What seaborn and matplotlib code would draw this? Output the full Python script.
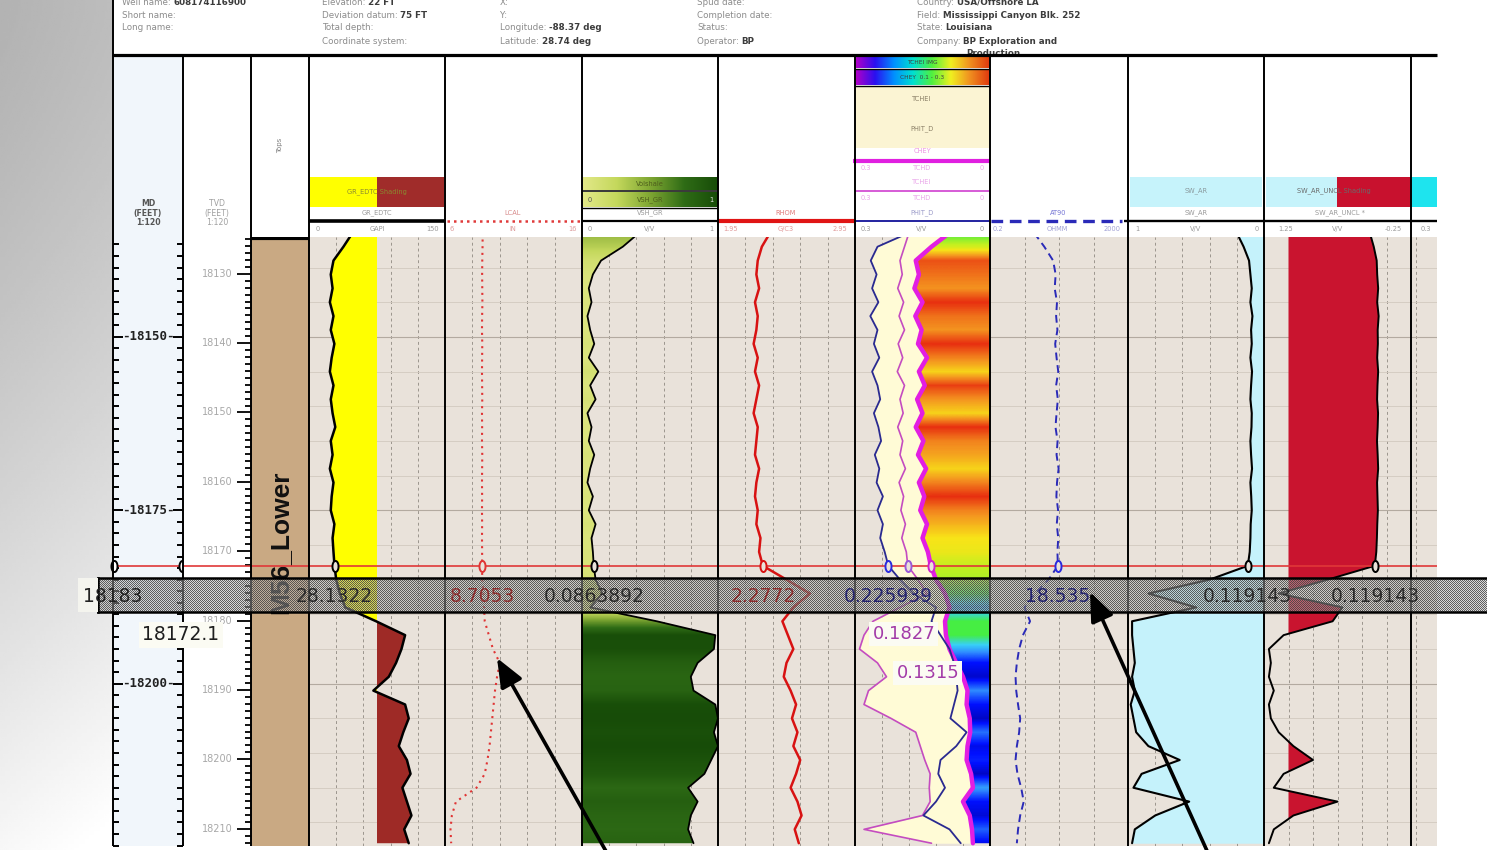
import numpy as np
import matplotlib
matplotlib.use("Agg")
import matplotlib.pyplot as plt
import matplotlib.transforms as mtransforms
from matplotlib.colors import LinearSegmentedColormap
from matplotlib.patches import Rectangle
from matplotlib.ticker import MultipleLocator, FixedLocator, NullLocator
import seaborn as sns

# ---------------------------------------------------------------- log data
MD = [18135, 18137, 18139, 18141, 18143,
      18145, 18147, 18149, 18151, 18153,
      18155, 18157, 18159, 18161, 18163,
      18165, 18167, 18169, 18171, 18173,
      18175, 18177, 18179, 18181, 18183,
      18185, 18187, 18189, 18191, 18193,
      18195, 18197, 18199, 18201, 18203,
      18205, 18207, 18209, 18211, 18213,
      18215, 18217, 18219, 18221, 18223]

GR_EDTC = [48, 38, 27, 24, 26,
           23, 27, 24, 28, 25,
           23, 27, 24, 26, 29,
           24, 26, 23, 27, 25,
           24, 28, 26, 27, 28.1322,
           30, 34, 40, 74, 106,
           102, 96, 88, 71, 106,
           110, 104, 99, 108, 112,
           103, 108, 113, 105, 110]

LCAL = [8.75, 8.74, 8.72, 8.71, 8.72,
        8.73, 8.71, 8.70, 8.72, 8.71,
        8.70, 8.71, 8.72, 8.70, 8.71,
        8.70, 8.72, 8.71, 8.70, 8.71,
        8.70, 8.71, 8.70, 8.71, 8.7053,
        8.72, 8.80, 8.85, 8.90, 9.20,
        9.50, 10.0, 9.80, 9.65, 9.55,
        9.45, 9.35, 9.25, 9.10, 8.90,
        8.30, 6.80, 6.50, 6.40, 6.45]

VSH_GR = [0.42, 0.30, 0.14, 0.08, 0.05,
          0.07, 0.04, 0.06, 0.09, 0.05,
          0.12, 0.06, 0.10, 0.04, 0.07,
          0.05, 0.09, 0.06, 0.04, 0.08,
          0.05, 0.10, 0.07, 0.08, 0.0863892,
          0.10, 0.15, 0.06, 0.55, 0.98,
          0.97, 0.85, 0.80, 0.82, 0.98,
          1.00, 0.97, 1.00, 0.95, 0.90,
          0.78, 0.85, 0.80, 0.78, 0.82]

RHOM = [2.33, 2.27, 2.24, 2.23, 2.25,
        2.22, 2.24, 2.23, 2.21, 2.24,
        2.22, 2.25, 2.23, 2.21, 2.24,
        2.23, 2.22, 2.25, 2.23, 2.22,
        2.24, 2.23, 2.26, 2.25, 2.2772,
        2.45, 2.62, 2.50, 2.42, 2.46,
        2.50, 2.45, 2.43, 2.48, 2.52,
        2.49, 2.53, 2.50, 2.55, 2.52,
        2.48, 2.53, 2.56, 2.51, 2.54]

PHIT_D = [0.180, 0.250, 0.265, 0.252, 0.262,
          0.248, 0.266, 0.250, 0.258, 0.246,
          0.262, 0.250, 0.244, 0.258, 0.248,
          0.242, 0.256, 0.246, 0.252, 0.238,
          0.250, 0.238, 0.244, 0.234, 0.225939,
          0.200, 0.170, 0.120, 0.130, 0.110,
          0.090, 0.080, 0.075, 0.072, 0.080,
          0.088, 0.052, 0.075, 0.110, 0.115,
          0.100, 0.120, 0.148, 0.090, 0.065]

TCHEI = [0.180, 0.190, 0.200, 0.195, 0.205,
         0.192, 0.202, 0.190, 0.204, 0.194,
         0.206, 0.190, 0.200, 0.193, 0.205,
         0.194, 0.200, 0.188, 0.202, 0.192,
         0.198, 0.188, 0.196, 0.186, 0.1827,
         0.160, 0.140, 0.200, 0.260, 0.280,
         0.290, 0.250, 0.230, 0.270, 0.280,
         0.220, 0.165, 0.155, 0.145, 0.133,
         0.135, 0.133, 0.150, 0.280, 0.130]

CHEY = [0.090, 0.130, 0.165, 0.158, 0.168,
        0.150, 0.166, 0.152, 0.160, 0.140,
        0.158, 0.145, 0.162, 0.150, 0.165,
        0.148, 0.160, 0.142, 0.158, 0.146,
        0.155, 0.140, 0.150, 0.138, 0.1315,
        0.120, 0.100, 0.090, 0.100, 0.098,
        0.090, 0.075, 0.060, 0.050, 0.052,
        0.045, 0.044, 0.050, 0.052, 0.042,
        0.038, 0.060, 0.045, 0.040, 0.038]

TCHEI_IMAGE = [0.50, 0.62, 0.86, 0.82, 0.78,
               0.90, 0.82, 0.78, 0.90, 0.80,
               0.70, 0.88, 0.78, 0.70, 0.90,
               0.80, 0.76, 0.70, 0.80, 0.90,
               0.80, 0.74, 0.68, 0.66, 0.60,
               0.58, 0.50, 0.30, 0.50, 0.50,
               0.30, 0.10, 0.05, 0.25, 0.10,
               0.04, 0.22, 0.08, 0.12, 0.04,
               0.28, 0.10, 0.06, 0.20, 0.08]

AT90 = [3.8, 7.5, 13.5, 16.0, 15.0,
        17.5, 16.5, 18.0, 15.5, 17.0,
        19.0, 16.5, 18.5, 17.0, 15.8,
        18.2, 17.0, 19.5, 17.5, 16.8,
        18.8, 17.2, 19.0, 18.0, 18.535,
        10.0, 4.0, 2.0, 2.9, 1.8,
        1.4, 1.2, 1.1, 1.15, 1.3,
        1.5, 1.4, 1.2, 1.1, 1.25,
        1.6, 1.9, 1.5, 1.3, 1.2]

SW_AR = [0.200, 0.150, 0.110, 0.100, 0.090,
         0.100, 0.085, 0.095, 0.090, 0.100,
         0.088, 0.095, 0.100, 0.090, 0.092,
         0.100, 0.095, 0.088, 0.100, 0.094,
         0.090, 0.098, 0.100, 0.105, 0.119143,
         0.400, 0.850, 0.500, 0.970, 0.970,
         0.960, 0.950, 0.970, 0.950, 0.980,
         0.960, 0.940, 0.850, 0.620, 0.900,
         0.960, 0.550, 0.800, 0.950, 0.970]

SW_AR_UNCL = [0.170, 0.130, 0.100, 0.095, 0.085,
              0.095, 0.080, 0.090, 0.088, 0.095,
              0.085, 0.092, 0.096, 0.086, 0.090,
              0.097, 0.090, 0.085, 0.096, 0.092,
              0.088, 0.094, 0.098, 0.104, 0.119143,
              0.600, 1.100, 0.450, 0.550, 1.050,
              1.200, 1.180, 1.200, 1.150, 1.200,
              1.180, 1.100, 0.950, 0.750, 1.050,
              1.150, 0.500, 0.950, 1.150, 1.200]

CURSOR_MD = 18183
TVD_AT_CURSOR = 18172.1
TOP_NAME = "M56_Lower"
TOP_MD = 18135.8
MD_LABELS = [18150, 18175, 18200]
TVD_LABELS = [18130, 18140, 18150, 18160, 18170, 18180, 18190, 18200, 18210]
GR_CUTOFF = 75
SW_CUTOFF = 1.0

# ---------------------------------------------------------------- layout
sns.set_theme(style="white")
plt.rcParams["font.family"] = ["DejaVu Sans"]

W, H = 1487, 850
Y_TOP, Y_BOT = 237, 846
DEPTH_TOP, DEPTH_BOTTOM = 18135.6, 18223.4
BEIGE = "#e9e2da"
DEPTH = np.array(MD, dtype=float)
CI = MD.index(CURSOR_MD)
TVD_SHIFT = CURSOR_MD - TVD_AT_CURSOR

fig = plt.figure(figsize=(W / 100, H / 100), dpi=100)
fig.patch.set_facecolor("white")


def frac(x0, y0, x1, y1):
    return [x0 / W, 1 - y1 / H, (x1 - x0) / W, (y1 - y0) / H]


def pixel_axes(z):
    ax = fig.add_axes([0, 0, 1, 1])
    ax.set_xlim(0, W)
    ax.set_ylim(H, 0)
    ax.axis("off")
    ax.set_zorder(z)
    ax.patch.set_alpha(0)
    return ax


ax_bg = pixel_axes(0)

# grey side panel
gy = np.linspace(0, 1, 200)[:, None]
gx = np.linspace(0, 1, 60)[None, :]
ax_bg.imshow(0.70 + 0.27 * gy ** 1.4 + 0.04 * gx, cmap="gray", vmin=0, vmax=1,
             extent=(0, 112, H, 0), aspect="auto", zorder=0)
ax_bg.add_patch(Rectangle((113, 55), 70, Y_BOT - 55, fc="#f1f6fb", ec="none", zorder=0))

# ---------------------------------------------------------------- header block
info_rows = [
    (122, 2, "Well name: ", "608174116900"),
    (122, 15, "Short name:", None),
    (122, 27, "Long name:", None),
    (322, 2, "Elevation: ", "22 FT"),
    (322, 15, "Deviation datum: ", "75 FT"),
    (322, 27, "Total depth:", None),
    (322, 41, "Coordinate system:", None),
    (500, 2, "X:", None),
    (500, 15, "Y:", None),
    (500, 27, "Longitude: ", "-88.37 deg"),
    (500, 41, "Latitude: ", "28.74 deg"),
    (697, 2, "Spud date:", None),
    (697, 15, "Completion date:", None),
    (697, 27, "Status:", None),
    (697, 41, "Operator: ", "BP"),
    (917, 2, "Country: ", "USA/Offshore LA"),
    (917, 15, "Field: ", "Mississippi Canyon Blk. 252"),
    (917, 27, "State: ", "Louisiana"),
    (917, 41, "Company: ", "BP Exploration and"),
    (966, 53, "", "Production"),
]
renderer = fig.canvas.get_renderer()
for x, y, lab, val in info_rows:
    xv = x
    if lab:
        t = ax_bg.text(x, y, lab, fontsize=6.3, color="#8c8c8c", va="center", ha="left")
        xv = x + t.get_window_extent(renderer).width
    if val:
        ax_bg.text(xv, y, val, fontsize=6.3, color="#3c3c3c", va="center", ha="left",
                   fontweight="bold")


def htext(x, y, s, color="#9a9a9a", size=4.8, **kw):
    kw.setdefault("ha", "center")
    ax_bg.text(x, y, s, fontsize=size, color=color, va="center", **kw)


def hline(x0, x1, y, color="black", lw=1.4, ls="-"):
    ax_bg.plot([x0, x1], [y, y], color=color, lw=lw, ls=ls, solid_capstyle="butt",
               dash_capstyle="butt")


def hbox(x0, x1, y0, y1, color):
    ax_bg.add_patch(Rectangle((x0, y0), x1 - x0, y1 - y0, fc=color, ec="none"))


def hgradient(x0, x1, y0, y1, cmap):
    ax_bg.imshow(np.linspace(0, 1, 256)[None, :], cmap=cmap, extent=(x0, x1, y1, y0),
                 aspect="auto", interpolation="bilinear")


vsh_cmap = LinearSegmentedColormap.from_list(
    "vsh", ["#e2e888", "#c4d85c", "#7ea632", "#2f6c16", "#174c08"])
hdr_cmap = LinearSegmentedColormap.from_list(
    "hdr", ["#b000c8", "#2a10f0", "#0090ff", "#00e0d0", "#50f040", "#f0f020",
            "#f09020", "#e03c10"])
img_cmap = LinearSegmentedColormap.from_list(
    "img", [(0.0, "#0000a0"), (0.1, "#0010ff"), (0.25, "#2f8cff"), (0.36, "#38d0f8"),
            (0.5, "#44ee44"), (0.6, "#c4f020"), (0.68, "#f8e418"), (0.78, "#f49420"),
            (0.9, "#e83010"), (1.0, "#c01808")])

# depth columns
htext(148, 213, "MD\n(FEET)\n1:120", color="#555555", size=5.6, linespacing=1.05,
      fontweight="bold")
htext(217, 213, "TVD\n(FEET)\n1:120", color="#a0a0a0", size=5.6, linespacing=1.05)
htext(280, 145, "Tops", color="#808080", size=5.0, rotation=90)

# GR
hbox(310, 377, 177, 207, "#ffff00")
hbox(377, 444, 177, 207, "#a02c2a")
htext(377, 192, "GR_EDTC Shading", color="#8a8a30", size=4.8)
htext(377, 213, "GR_EDTC")
hline(309, 445, 221, lw=2.6)
htext(318, 229, "0"); htext(377, 229, "GAPI"); htext(433, 229, "150")

# LCAL
htext(513, 213, "LCAL", color="#d88c8c")
hline(447, 581, 221, color="#e03a3a", lw=1.8, ls=(0, (1, 1.6)))
htext(452, 229, "6", color="#dc9c9c"); htext(513, 229, "IN", color="#dc9c9c")
htext(572, 229, "16", color="#dc9c9c")

# VSH
hgradient(583, 718, 177, 190, vsh_cmap)
hgradient(583, 718, 192, 207, vsh_cmap)
hline(582, 718, 191, lw=1.1)
hline(582, 718, 207.5, lw=1.0)
htext(650, 184, "Volshale", color="#4e5e1c")
htext(590, 200, "0", color="#555555"); htext(650, 200, "VSH_GR", color="#4e5e1c")
htext(711, 200, "1", color="#e0e0e0")
htext(650, 213, "VSH_GR")
hline(582, 718, 221, lw=1.6)
htext(590, 229, "0"); htext(650, 229, "V/V"); htext(711, 229, "1")

# RHOM
htext(786, 213, "RHOM", color="#e07a7a")
hline(718, 855, 221, color="#e01414", lw=3.0)
htext(731, 229, "1.95", color="#e09a9a"); htext(786, 229, "G/C3", color="#e09a9a")
htext(840, 229, "2.95", color="#e09a9a")

# porosity / image
hgradient(856, 989, 56, 68, hdr_cmap)
hgradient(856, 989, 70, 85, hdr_cmap)
hline(855, 990, 69, lw=1.0)
hline(855, 990, 85.5, lw=1.0)
htext(922, 62, "TCHEI IMG", color="#404040", size=4.2)
htext(922, 77, "CHEY  0.1 - 0.3", color="#404040", size=4.2)
hbox(856, 989, 87, 148, "#fbf4d3")
htext(922, 99, "TCHEI", color="#8a7f66")
htext(922, 129, "PHIT_D", color="#8a7f66")
htext(922, 151, "CHEY", color="#ec96e4")
hline(853, 990, 161, color="#e020e0", lw=3.0)
htext(866, 168, "0.3", color="#eaa6ea"); htext(922, 168, "TCHD", color="#eaa6ea")
htext(982, 168, "0", color="#eaa6ea")
htext(922, 182, "TCHEI", color="#eaa6ea")
hline(855, 990, 191, color="#d040d0", lw=1.2)
htext(866, 198, "0.3", color="#eaa6ea"); htext(922, 198, "TCHD", color="#eaa6ea")
htext(982, 198, "0", color="#eaa6ea")
htext(922, 213, "PHIT_D", color="#9a9ac8")
hline(855, 990, 221, color="#2222a0", lw=1.4)
htext(866, 229, "0.3"); htext(922, 229, "V/V"); htext(982, 229, "0")

# AT90
htext(1058, 213, "AT90", color="#7474d4")
hline(991, 1122, 221, color="#2a2ab8", lw=2.4, ls=(0, (3.5, 2)))
htext(998, 229, "0.2", color="#a0a0d4"); htext(1057, 229, "OHMM", color="#a0a0d4")
htext(1112, 229, "2000", color="#a0a0d4")

# SW_AR
hbox(1130, 1262, 177, 207, "#c6f3fb")
htext(1196, 191, "SW_AR", color="#8a9a9e")
htext(1196, 213, "SW_AR")
htext(1137, 229, "1"); htext(1196, 229, "V/V"); htext(1257, 229, "0")

# SW_AR_UNCL
hbox(1266, 1337, 177, 207, "#c6f3fb")
hbox(1337, 1411, 177, 207, "#c8112e")
hbox(1411, 1437, 177, 207, "#1ee4ee")
htext(1334, 191, "SW_AR_UNCL Shading", color="#6a6a6a")
htext(1340, 213, "SW_AR_UNCL *")
hline(1124, 1437, 221, lw=1.7)
htext(1286, 229, "1.25"); htext(1338, 229, "V/V"); htext(1393, 229, "-0.25")
htext(1426, 229, "0.3")

for im in ax_bg.images:
    im.set_zorder(0)
ax_bg.set_xlim(0, W)
ax_bg.set_ylim(H, 0)


# ---------------------------------------------------------------- tracks
def data_track(x0, x1, xlim, ticks, log=False, face=BEIGE):
    ax = fig.add_axes(frac(x0, Y_TOP, x1, Y_BOT))
    ax.set_zorder(1)
    ax.set_facecolor(face)
    if log:
        ax.set_xscale("log")
    ax.set_xlim(*xlim)
    ax.set_ylim(DEPTH_BOTTOM, DEPTH_TOP)
    for s in ax.spines.values():
        s.set_visible(False)
    ax.xaxis.set_major_locator(FixedLocator(ticks))
    ax.xaxis.set_minor_locator(NullLocator())
    ax.yaxis.set_major_locator(MultipleLocator(25))
    ax.yaxis.set_minor_locator(MultipleLocator(5))
    ax.grid(True, axis="x", which="major", color="#9b958d", lw=0.7, ls=(0, (3, 3)))
    ax.grid(True, axis="y", which="major", color="#b3aaa0", lw=0.8)
    ax.grid(True, axis="y", which="minor", color="#d2c9bf", lw=0.6)
    ax.tick_params(which="both", length=0, labelbottom=False, labelleft=False)
    ax.set_axisbelow(True)
    ax._limits = xlim
    return ax


def curve(ax, values, color, lw, ls="-", z=4):
    sns.lineplot(x=np.asarray(values, dtype=float), y=DEPTH, orient="y", sort=False,
                 estimator=None, ax=ax, color=color, lw=lw, linestyle=ls, zorder=z)


def clipped_column(ax, values, cmap, x_extent, poly):
    """Colour column along depth, shown only inside the filled polygon."""
    img = ax.imshow(np.asarray(values, dtype=float)[:, None], cmap=cmap, vmin=0, vmax=1,
                    extent=(x_extent[0], x_extent[1], DEPTH[-1] + 1, DEPTH[0] - 1),
                    origin="upper", aspect="auto", interpolation="bilinear", zorder=2.5)
    img.set_clip_path(poly.get_paths()[0], ax.transData)
    poly.remove()
    return img


def finish(ax):
    ax.set_xlim(*ax._limits)
    ax.set_ylim(DEPTH_BOTTOM, DEPTH_TOP)
    ax.set_xlabel("")
    ax.set_ylabel("")


ax_gr = data_track(309, 445, (0, 150), [30, 60, 90, 120])
ax_cal = data_track(445, 582, (6, 16), [8, 10, 12, 14])
ax_vsh = data_track(582, 718, (0, 1), [0.2, 0.4, 0.6, 0.8])
ax_den = data_track(718, 855, (1.95, 2.95), [2.15, 2.35, 2.55, 2.75])
ax_phi = data_track(855, 990, (0.3, 0.0), [0.24, 0.18, 0.12, 0.06])
ax_res = data_track(990, 1128, (0.2, 2000), [2, 20, 200], log=True)
ax_sw = data_track(1128, 1264, (1.0, 0.0), [0.8, 0.6, 0.4, 0.2])
ax_swu = data_track(1264, 1411, (1.25, -0.25), [1.0, 0.75, 0.5, 0.25, 0.0])
ax_x = data_track(1411, 1437, (0.3, 0.0), [0.24])

# gamma ray with sand / shale shading
gr = np.asarray(GR_EDTC, dtype=float)
ax_gr.fill_betweenx(DEPTH, gr, GR_CUTOFF, where=gr <= GR_CUTOFF, interpolate=True,
                    color="#ffff00", lw=0, zorder=2)
ax_gr.fill_betweenx(DEPTH, GR_CUTOFF, gr, where=gr >= GR_CUTOFF, interpolate=True,
                    color="#9e2a26", lw=0, zorder=2)
curve(ax_gr, GR_EDTC, "black", 1.8)

# caliper
curve(ax_cal, LCAL, "#e03434", 1.5, ls=(0, (1, 2.2)))

# shale volume with graded fill
vsh = np.asarray(VSH_GR, dtype=float)
clipped_column(ax_vsh, VSH_GR, vsh_cmap, (0, 1),
               ax_vsh.fill_betweenx(DEPTH, 0, vsh, facecolor="none", lw=0))
curve(ax_vsh, VSH_GR, "black", 1.3)

# bulk density
curve(ax_den, RHOM, "#d81212", 1.8)

# porosity track with image fill
phit = np.asarray(PHIT_D, dtype=float)
tchei = np.asarray(TCHEI, dtype=float)
chey = np.asarray(CHEY, dtype=float)
ax_phi.fill_betweenx(DEPTH, np.maximum(phit, tchei), chey, color="#fffbd6", lw=0, zorder=2)
clipped_column(ax_phi, TCHEI_IMAGE, img_cmap, (0.3, 0.0),
               ax_phi.fill_betweenx(DEPTH, chey, 0.0, facecolor="none", lw=0))
curve(ax_phi, TCHEI, "#c44cc0", 1.2)
curve(ax_phi, CHEY, "#e21ee2", 3.2)
curve(ax_phi, PHIT_D, "#2a2a90", 1.3)

# deep resistivity
curve(ax_res, AT90, "#2a2ab8", 1.4, ls=(0, (4, 2.5)))

# water saturation
sw = np.asarray(SW_AR, dtype=float)
ax_sw.fill_betweenx(DEPTH, sw, 0.0, color="#c5f2fb", lw=0, zorder=2)
curve(ax_sw, SW_AR, "black", 1.5)

swu = np.asarray(SW_AR_UNCL, dtype=float)
ax_swu.fill_betweenx(DEPTH, SW_CUTOFF, swu, where=swu <= SW_CUTOFF, interpolate=True,
                     color="#c9142f", lw=0, zorder=2)
curve(ax_swu, SW_AR_UNCL, "black", 1.4)

for ax in (ax_gr, ax_cal, ax_vsh, ax_den, ax_phi, ax_res, ax_sw, ax_swu, ax_x):
    finish(ax)

# measured depth column
ax_md = fig.add_axes(frac(113, Y_TOP, 183, Y_BOT))
ax_md.set_zorder(1)
ax_md.set_facecolor("#f1f6fb")
ax_md.set_xlim(0, 1)
ax_md.set_ylim(DEPTH_BOTTOM, DEPTH_TOP)
for s in ax_md.spines.values():
    s.set_visible(False)
ax_md.yaxis.set_major_locator(FixedLocator(MD_LABELS))
ax_md.yaxis.set_minor_locator(MultipleLocator(25 / 15))
ax_md.tick_params(axis="y", which="both", left=True, right=True, direction="in",
                  color="black", width=1.4, labelleft=False, labelright=False)
ax_md.tick_params(axis="y", which="major", length=7)
ax_md.tick_params(axis="y", which="minor", length=4.5)
ax_md.tick_params(axis="x", length=0, labelbottom=False)
md_tr = mtransforms.blended_transform_factory(ax_md.transAxes, ax_md.transData)
for d in MD_LABELS:
    ax_md.text(0.5, d, f"-{d}-", transform=md_tr, ha="center", va="center",
               family="DejaVu Sans Mono", fontweight="bold", fontsize=9, color="#222222")

# true vertical depth column
ax_tvd = fig.add_axes(frac(183, Y_TOP, 251, Y_BOT))
ax_tvd.set_zorder(1)
ax_tvd.set_facecolor("white")
ax_tvd.set_xlim(0, 1)
ax_tvd.set_ylim(DEPTH_BOTTOM - TVD_SHIFT, DEPTH_TOP - TVD_SHIFT)
for s in ax_tvd.spines.values():
    s.set_visible(False)
ax_tvd.yaxis.set_major_locator(FixedLocator(TVD_LABELS))
ax_tvd.yaxis.set_minor_locator(MultipleLocator(1))
ax_tvd.tick_params(axis="y", which="both", left=False, right=True, direction="in",
                   color="black", width=1.3, labelleft=False, labelright=False)
ax_tvd.tick_params(axis="y", which="major", length=10)
ax_tvd.tick_params(axis="y", which="minor", length=4.5)
ax_tvd.tick_params(axis="x", length=0, labelbottom=False)
tvd_tr = mtransforms.blended_transform_factory(ax_tvd.transAxes, ax_tvd.transData)
for d in TVD_LABELS:
    ax_tvd.text(0.5, d, str(d), transform=tvd_tr, ha="center", va="center",
                fontsize=7, color="#a8a8a8")

# formation tops column
ax_top_col = fig.add_axes(frac(251, Y_TOP, 309, Y_BOT))
ax_top_col.set_zorder(1)
ax_top_col.set_facecolor("white")
ax_top_col.set_xlim(0, 1)
ax_top_col.set_ylim(DEPTH_BOTTOM, DEPTH_TOP)
ax_top_col.axis("off")
ax_top_col.axhspan(TOP_MD, DEPTH_BOTTOM, color="#c9a983", lw=0)
ax_top_col.axhline(TOP_MD, color="black", lw=3)
tops_tr = mtransforms.blended_transform_factory(ax_top_col.transAxes, ax_top_col.transData)
ax_top_col.text(0.5, (TOP_MD + DEPTH_BOTTOM) / 2, TOP_NAME, transform=tops_tr,
                rotation=90, ha="center", va="center", fontsize=19, fontweight="bold",
                family="Liberation Sans", color="#111111")

# cursor line and cursor markers
ZERO_MARK = [(0.55 * np.cos(t), np.sin(t)) for t in np.linspace(0, 2 * np.pi, 25)]
for ax in (ax_md, ax_top_col, ax_gr, ax_cal, ax_vsh, ax_den, ax_phi, ax_res, ax_sw,
           ax_swu, ax_x):
    ax.axhline(CURSOR_MD, color="#e03838", lw=1.2, zorder=5)
ax_tvd.axhline(CURSOR_MD - TVD_SHIFT, color="#e03838", lw=1.2, zorder=5)


def cursor_mark(ax, xval, color):
    ax.plot([xval], [CURSOR_MD], ls="none", marker=ZERO_MARK, ms=8, mfc=BEIGE,
            mec=color, mew=1.4, zorder=6, clip_on=False)


ax_md.plot([0.01, 0.99], [CURSOR_MD, CURSOR_MD], ls="none", marker=ZERO_MARK, ms=8,
           mfc="white", mec="black", mew=1.4, zorder=6, clip_on=False)
cursor_mark(ax_gr, GR_EDTC[CI], "black")
cursor_mark(ax_cal, LCAL[CI], "#e03434")
cursor_mark(ax_vsh, VSH_GR[CI], "black")
cursor_mark(ax_den, RHOM[CI], "#d81212")
cursor_mark(ax_phi, PHIT_D[CI], "#2a2ae0")
cursor_mark(ax_phi, TCHEI[CI], "#9a5ad8")
cursor_mark(ax_phi, CHEY[CI], "#d020d0")
cursor_mark(ax_res, AT90[CI], "#2a2ae0")
cursor_mark(ax_sw, SW_AR[CI], "black")
cursor_mark(ax_swu, SW_AR_UNCL[CI], "black")

# ---------------------------------------------------------------- track borders
ax_lines = pixel_axes(2)
for x in [113, 183, 251, 309, 445, 582, 718, 855, 990, 1128, 1264, 1411]:
    ax_lines.plot([x, x], [55, Y_BOT], color="black", lw=1.4, solid_capstyle="butt")
ax_lines.plot([113, 113], [0, 55], color="black", lw=1.4)
ax_lines.plot([113, 1437], [55, 55], color="black", lw=2.3, solid_capstyle="butt")

# ---------------------------------------------------------------- read-out band
ax_band = fig.add_axes(frac(98, 578, 1487, 612))
ax_band.set_zorder(3)
bh, bw = 34, 1389
yy, xx = np.indices((bh, bw))
dither = np.zeros((bh, bw, 4))
dither[(yy + xx) % 2 == 0] = (0.30, 0.30, 0.30, 0.90)
dither[(yy + xx) % 2 == 1] = (0.70, 0.70, 0.70, 0.50)
ax_band.imshow(dither, interpolation="nearest", aspect="auto", extent=(0, bw, bh, 0))
ax_band.patch.set_alpha(0)
ax_band.set_xticks([])
ax_band.set_yticks([])
for side, s in ax_band.spines.items():
    s.set_visible(side != "right")
    s.set_color("black")
    s.set_linewidth(1.8)

ax_top = pixel_axes(4)
ax_top.add_patch(Rectangle((78, 578), 20, 34, fc="#f4f4ee", ec="none", zorder=1))
ax_top.text(83, 596, str(CURSOR_MD), fontsize=13.5, color="#222222", ha="left",
            va="center", zorder=3)


def px_of(ax, xval, depth):
    dx, dy = ax.transData.transform((xval, depth))
    return dx, H - dy


readouts = [
    (ax_gr, GR_EDTC, "{:.4f}", "#2a2a2a"),
    (ax_cal, LCAL, "{:.4f}", "#8c2e2e"),
    (ax_vsh, VSH_GR, "{:.7f}", "#2a2a2a"),
    (ax_den, RHOM, "{:.4f}", "#8c2e2e"),
    (ax_phi, PHIT_D, "{:.6f}", "#25256e"),
    (ax_res, AT90, "{:.3f}", "#25256e"),
    (ax_sw, SW_AR, "{:.6f}", "#2a2a2a"),
    (ax_swu, SW_AR_UNCL, "{:.6f}", "#2a2a2a"),
]
for ax, vals, fmt, col in readouts:
    px, _ = px_of(ax, vals[CI], CURSOR_MD)
    ax_top.text(px, 596, fmt.format(vals[CI]), fontsize=13.5, color=col, ha="center",
                va="center", zorder=3)

# value boxes beneath the band
box = dict(boxstyle="square,pad=0.18", fc="#fbfbf3", ec="none")
ax_top.text(181, 635, f"{CURSOR_MD - TVD_SHIFT:.1f}", fontsize=13.5, color="#1e1e1e",
            ha="center", va="center", bbox=box, zorder=3)
px_tchei, _ = px_of(ax_phi, TCHEI[CI], CURSOR_MD)
px_chey, _ = px_of(ax_phi, CHEY[CI], CURSOR_MD)
ax_top.text(px_tchei - 4, 634, f"{TCHEI[CI]:.4f}", fontsize=13, color="#a23aa8",
            ha="center", va="center", bbox=box, zorder=3)
ax_top.text(px_chey - 3, 673, f"{CHEY[CI]:.4f}", fontsize=13, color="#a23aa8",
            ha="center", va="center", bbox=box, zorder=3)

# pointer arrows
arrow = dict(arrowstyle="-|>,head_length=1.1,head_width=0.45", color="black", lw=2.6,
             shrinkA=0, shrinkB=0, mutation_scale=16)
ax_top.annotate("", xy=(497, 658), xytext=(607, 853), arrowprops=arrow)
ax_top.annotate("", xy=(1090, 592), xytext=(1208, 853), arrowprops=arrow)

fig.savefig("out.png", dpi=100)
